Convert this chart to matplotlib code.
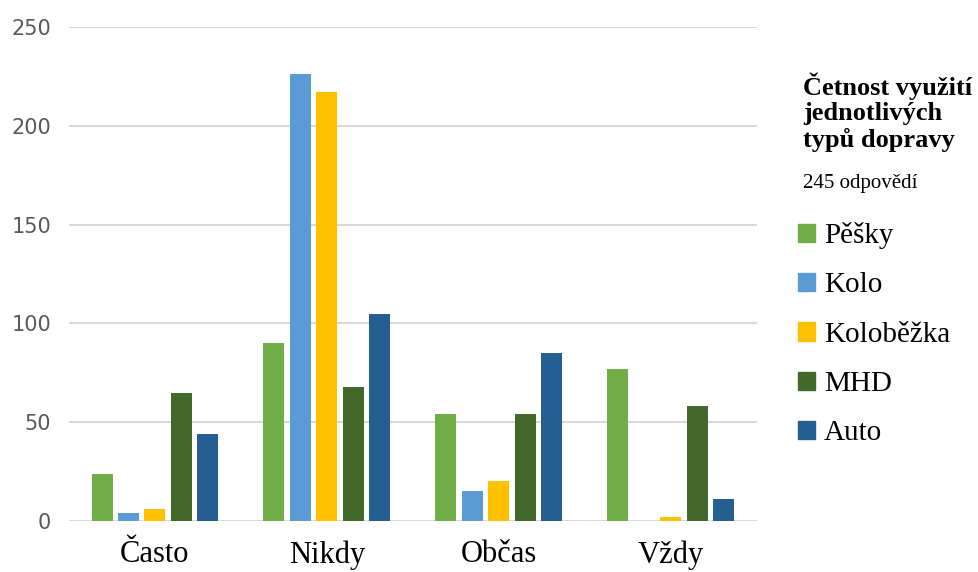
import matplotlib.pyplot as plt
import numpy as np
from matplotlib.patches import Patch

# Data ===========================================================================
kategorie = ['Často', 'Nikdy', 'Občas', 'Vždy']
pesky = [24, 90, 54, 77]
kolo = [4, 226, 15, 0]
kolobezka = [6, 217, 20, 2]
mhd = [65, 68, 54, 58]
auto = [44, 105, 85, 11]

serie = ['Pěšky', 'Kolo', 'Koloběžka', 'MHD', 'Auto']
barvy = ['#70AD47', '#5B9BD5', '#FFC000', '#43682B', '#255E91']

# Plot ===========================================================================
fig = plt.figure(figsize=(9.79, 5.72), dpi=100)
ax = fig.add_axes([0.0705, 0.0892, 0.7025, 0.8636])

x = np.arange(len(kategorie))
krok = 0.154
sirka = 0.122
for i, (hodnoty, barva) in enumerate(zip([pesky, kolo, kolobezka, mhd, auto], barvy)):
    ax.bar(x + (i - 2) * krok, hodnoty, width=sirka, color=barva, zorder=3)

ax.set_xlim(-0.5, 3.5)
ax.set_ylim(0, 250)
ax.set_yticks(range(0, 251, 50))
ax.yaxis.grid(True, color='#d9d9d9', linewidth=1.5, zorder=0)
for s in ax.spines.values():
    s.set_visible(False)
ax.tick_params(axis='both', length=0)
ax.tick_params(axis='y', labelsize=15, labelcolor='#595959', pad=13)
ax.set_xticks(x)
ax.set_xticklabels(kategorie, fontfamily='Liberation Serif', fontsize=22, color='black')
ax.tick_params(axis='x', pad=14)

# Legend + title -----------------------------------------------------------------
fig.text(0.820, 0.874, 'Četnost využití\njednotlivých\ntypů dopravy', fontfamily='Liberation Serif',
         fontweight='bold', fontsize=19, va='top', ha='left', linespacing=1.15)
fig.text(0.820, 0.680, '245 odpovědí', fontfamily='Liberation Serif', fontsize=15,
         va='center', ha='left')

handles = [Patch(color=c, label=l) for c, l in zip(barvy, serie)]
fig.legend(handles=handles, loc='upper left', bbox_to_anchor=(0.803, 0.632), frameon=False,
           prop={'family': 'Liberation Serif', 'size': 21}, handlelength=0.6, handleheight=0.6,
           handletextpad=0.3, labelspacing=0.8, borderaxespad=0)

plt.savefig('out.png', dpi=100)
